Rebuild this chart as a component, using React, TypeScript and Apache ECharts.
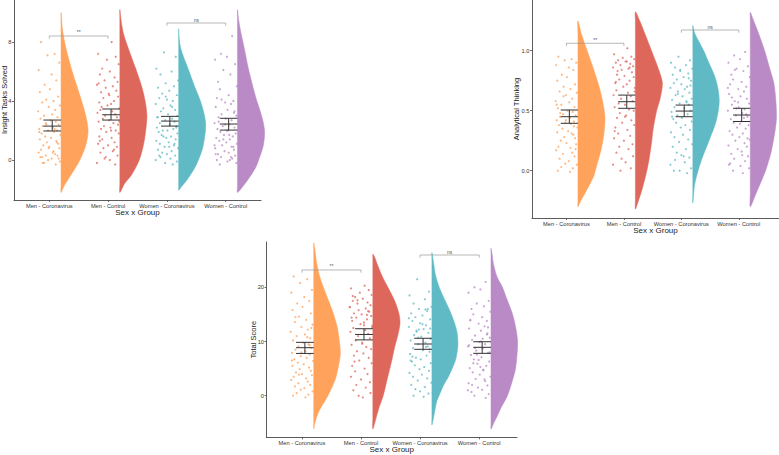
import React, { useEffect, useRef } from "react";
import * as echarts from "echarts";

const GROUPS = ["Men - Coronavirus", "Men - Control", "Women - Coronavirus", "Women - Control"];
const COLORS = ["#FFA25B", "#DE675C", "#60BAC5", "#B98AC6"];
const SIG_LABELS = ["**", "ns"];

// horizontal jitter offsets (category units) for each group's points
const JIT_A = [-0.14, 0.09, -0.03, 0.17, -0.18, 0.04, 0.12, -0.08, 0.01, -0.16, 0.15, -0.05, 0.07, -0.12, 0.18, -0.01, 0.1, -0.19, 0.05, -0.09, 0.14, -0.15, 0.02, 0.11, -0.06, 0.16, -0.11, 0.06, -0.17, 0.13, -0.02, 0.08, -0.13, 0.19, -0.07, 0.03, -0.16, 0.12, -0.04, 0.15, -0.1, 0.0, 0.17, -0.14, 0.07, -0.18, 0.1, -0.06, 0.14, -0.12, 0.04, -0.02, 0.18, -0.09, 0.11, -0.15, 0.06, -0.01, 0.13, -0.17, 0.09, -0.05, 0.16, -0.11];
const JIT_B = [0.06, -0.17, 0.13, -0.02, 0.18, -0.1, 0.03, -0.14, 0.11, -0.06, 0.16, -0.19, 0.08, -0.04, 0.14, -0.12, 0.01, 0.17, -0.08, 0.1, -0.15, 0.05, -0.01, 0.19, -0.13, 0.07, -0.18, 0.12, -0.05, 0.15, -0.09, 0.02, -0.16, 0.09, 0.17, -0.07, 0.04, -0.12, 0.13, -0.03, 0.18, -0.15, 0.06, -0.1, 0.11, -0.17, 0.0, 0.15, -0.08, 0.08, -0.13, 0.16, -0.04, 0.03, -0.19, 0.12, -0.06, 0.1, -0.14, 0.05, 0.19, -0.11, 0.02, -0.16];
const JIT_C = [-0.05, 0.15, -0.18, 0.08, -0.11, 0.19, -0.02, 0.12, -0.15, 0.04, -0.08, 0.17, -0.13, 0.0, 0.1, -0.19, 0.06, -0.06, 0.14, -0.1, 0.02, 0.18, -0.16, 0.09, -0.03, 0.13, -0.12, 0.05, 0.16, -0.17, 0.11, -0.07, 0.01, -0.14, 0.18, -0.09, 0.07, -0.01, 0.15, -0.18, 0.03, -0.12, 0.12, -0.04, 0.19, -0.15, 0.08, -0.08, 0.0, 0.14, -0.11, 0.06, -0.19, 0.17, -0.03, 0.1, -0.13, 0.04, -0.06, 0.16, -0.16, 0.09, -0.02, 0.13];
const JIT_D = [0.11, -0.08, 0.02, -0.18, 0.16, -0.04, 0.08, -0.13, 0.19, -0.1, 0.05, -0.15, 0.13, -0.01, 0.09, -0.17, 0.03, 0.14, -0.07, 0.18, -0.12, 0.0, 0.1, -0.19, 0.06, -0.05, 0.15, -0.14, 0.04, -0.09, 0.17, -0.03, 0.12, -0.16, 0.07, -0.11, 0.01, 0.19, -0.06, 0.1, -0.18, 0.14, -0.02, 0.05, -0.13, 0.16, -0.08, 0.11, -0.15, 0.03, 0.18, -0.1, 0.07, -0.17, 0.13, -0.04, 0.02, -0.12, 0.15, -0.07, 0.09, -0.19, 0.06, -0.01];
const JITTERS = [JIT_A, JIT_B, JIT_C, JIT_D];

// ---------- Panel 1: Insight Tasks Solved ----------
const INSIGHT_MEN_CORONA = [8.0, 7.2, 7.1, 6.6, 6.1, 5.8, 5.4, 5.1, 4.8, 4.6, 4.3, 4.1, 4.0, 3.9, 3.7, 3.6, 3.4, 3.3, 3.1, 3.0, 2.9, 2.8, 2.7, 2.6, 2.5, 2.4, 2.3, 2.2, 2.1, 2.0, 2.0, 1.9, 1.8, 1.7, 1.6, 1.5, 1.4, 1.3, 1.2, 1.1, 1.0, 0.9, 0.8, 0.7, 0.6, 0.5, 0.4, 0.3, 0.3, 0.2, 0.1, 0.0, -0.1, -0.2, -0.3, 0.2, 0.5, 0.8, 1.2, 1.9, 2.1, 2.4, 0.1, -0.2];
const INSIGHT_MEN_CONTROL = [8.0, 7.2, 7.0, 6.8, 6.5, 6.2, 6.0, 5.8, 5.6, 5.4, 5.3, 5.1, 5.0, 4.9, 4.7, 4.6, 4.5, 4.3, 4.2, 4.0, 3.9, 3.8, 3.7, 3.5, 3.4, 3.3, 3.2, 3.1, 3.0, 2.9, 2.8, 2.7, 2.6, 2.5, 2.4, 2.3, 2.2, 2.1, 2.0, 1.9, 1.8, 1.6, 1.5, 1.4, 1.2, 1.1, 1.0, 0.9, 0.8, 0.6, 0.5, 0.3, 0.2, 0.0, -0.2, -0.3, 0.1, 0.7, 1.3, 2.0, 2.6, 3.6, 4.4, 5.2];
const INSIGHT_WOMEN_CORONA = [7.3, 7.0, 6.2, 6.0, 5.8, 5.4, 5.2, 5.0, 4.9, 4.7, 4.5, 4.4, 4.2, 4.1, 4.0, 3.8, 3.7, 3.5, 3.4, 3.3, 3.1, 3.0, 2.9, 2.8, 2.7, 2.6, 2.5, 2.4, 2.3, 2.2, 2.1, 2.0, 2.0, 1.9, 1.8, 1.7, 1.6, 1.5, 1.4, 1.3, 1.2, 1.1, 1.0, 0.9, 0.8, 0.7, 0.6, 0.5, 0.4, 0.3, 0.2, 0.1, 0.0, -0.1, -0.2, -0.3, 0.3, 0.9, 1.6, 2.2, 2.9, 3.6, 4.3, 1.1];
const INSIGHT_WOMEN_CONTROL = [8.4, 7.2, 7.0, 6.8, 6.5, 6.1, 5.8, 5.3, 5.0, 4.8, 4.4, 4.2, 4.0, 3.9, 3.8, 3.6, 3.4, 3.2, 3.1, 3.0, 2.9, 2.8, 2.7, 2.5, 2.4, 2.3, 2.2, 2.1, 2.0, 1.9, 1.8, 1.7, 1.6, 1.5, 1.4, 1.3, 1.2, 1.1, 1.0, 0.9, 0.8, 0.7, 0.6, 0.5, 0.4, 0.3, 0.2, 0.1, 0.0, -0.1, -0.2, -0.3, 0.0, 0.4, 0.9, 1.4, 2.0, 2.6, 3.3, 4.1, 0.2, 1.0, 1.7, 2.4];
// density profiles: [value, half-violin width in category units]
const INSIGHT_DENS_MEN_CORONA = [[10.0, 0], [9, 0.02], [8, 0.06], [7, 0.12], [6, 0.19], [5, 0.27], [4, 0.35], [3, 0.42], [2, 0.46], [1, 0.42], [0, 0.32], [-1, 0.17], [-1.7, 0.06], [-2.2, 0]];
const INSIGHT_DENS_MEN_CONTROL = [[10.2, 0], [9.5, 0.02], [8.6, 0.06], [7.5, 0.15], [6.3, 0.26], [5, 0.37], [4, 0.43], [3, 0.46], [2, 0.44], [1, 0.4], [0, 0.33], [-1, 0.2], [-1.6, 0.08], [-2.2, 0]];
const INSIGHT_DENS_WOMEN_CORONA = [[8.9, 0], [8.2, 0.01], [7.5, 0.04], [6.3, 0.15], [5, 0.27], [4, 0.37], [3, 0.44], [2.3, 0.46], [1.5, 0.44], [0.7, 0.4], [-0.4, 0.29], [-1.3, 0.15], [-1.8, 0.05], [-2.05, 0]];
const INSIGHT_DENS_WOMEN_CONTROL = [[10.2, 0], [9.5, 0.02], [8.6, 0.06], [7.5, 0.12], [6.3, 0.18], [5, 0.26], [4, 0.33], [3, 0.41], [2, 0.46], [1, 0.44], [0, 0.36], [-0.5, 0.31], [-1.2, 0.2], [-1.8, 0.09], [-2.2, 0]];
// [lower CI, mean, upper CI]
const INSIGHT_CI = [[1.97, 2.3, 2.71], [2.71, 3.07, 3.46], [2.3, 2.64, 2.96], [2.03, 2.44, 2.83]];
const INSIGHT_TICKS = [0, 4, 8];
// [from group, to group, bracket height]
const INSIGHT_SIG = [[1, 2, 8.41], [3, 4, 9.29]];

// ---------- Panel 2: Analytical Thinking ----------
const ANALYTIC_MEN_CORONA = [0.95, 0.93, 0.92, 0.9, 0.88, 0.86, 0.84, 0.8, 0.78, 0.75, 0.72, 0.7, 0.68, 0.66, 0.65, 0.63, 0.6, 0.58, 0.57, 0.55, 0.53, 0.52, 0.5, 0.49, 0.47, 0.46, 0.45, 0.44, 0.42, 0.41, 0.4, 0.39, 0.38, 0.36, 0.35, 0.33, 0.32, 0.3, 0.28, 0.27, 0.25, 0.23, 0.22, 0.2, 0.19, 0.17, 0.15, 0.14, 0.12, 0.1, 0.08, 0.06, 0.05, 0.03, 0.02, 0.0, -0.01, 0.42, 0.37, 0.55, 0.31, 0.62, 0.18, 0.48];
const ANALYTIC_MEN_CONTROL = [1.02, 0.97, 0.95, 0.94, 0.93, 0.92, 0.91, 0.9, 0.89, 0.88, 0.87, 0.86, 0.85, 0.84, 0.82, 0.8, 0.79, 0.78, 0.76, 0.75, 0.73, 0.72, 0.7, 0.69, 0.67, 0.65, 0.63, 0.62, 0.6, 0.58, 0.56, 0.55, 0.53, 0.51, 0.5, 0.48, 0.46, 0.44, 0.42, 0.4, 0.38, 0.36, 0.34, 0.31, 0.29, 0.27, 0.25, 0.22, 0.2, 0.18, 0.15, 0.12, 0.1, 0.07, 0.05, 0.02, 0.0, 0.86, 0.74, 0.91, 0.66, 0.83, 0.45, 0.33];
const ANALYTIC_WOMEN_CORONA = [0.95, 0.92, 0.9, 0.88, 0.86, 0.85, 0.83, 0.81, 0.8, 0.78, 0.76, 0.75, 0.73, 0.72, 0.7, 0.69, 0.68, 0.66, 0.65, 0.63, 0.62, 0.6, 0.59, 0.57, 0.56, 0.55, 0.53, 0.52, 0.5, 0.49, 0.47, 0.46, 0.44, 0.43, 0.41, 0.4, 0.38, 0.36, 0.34, 0.32, 0.3, 0.28, 0.26, 0.24, 0.22, 0.2, 0.18, 0.15, 0.13, 0.11, 0.09, 0.07, 0.05, 0.02, 0.0, -0.02, 0.0, 0.12, 0.64, 0.71, 0.45, 0.58, 0.84, 0.77];
const ANALYTIC_WOMEN_CONTROL = [0.99, 0.96, 0.93, 0.9, 0.87, 0.85, 0.83, 0.8, 0.78, 0.76, 0.74, 0.72, 0.7, 0.68, 0.66, 0.64, 0.62, 0.6, 0.58, 0.56, 0.55, 0.53, 0.51, 0.5, 0.48, 0.46, 0.45, 0.43, 0.41, 0.4, 0.38, 0.36, 0.35, 0.33, 0.31, 0.3, 0.28, 0.26, 0.25, 0.23, 0.21, 0.2, 0.18, 0.16, 0.14, 0.12, 0.1, 0.08, 0.06, 0.04, 0.02, 0.0, -0.02, 0.05, 0.47, 0.52, 0.39, 0.61, 0.27, 0.84, 0.44, 0.69, 0.13, 0.57];
const ANALYTIC_DENS_MEN_CORONA = [[1.25, 0], [1.14, 0.06], [1.0, 0.16], [0.85, 0.27], [0.73, 0.35], [0.6, 0.42], [0.45, 0.47], [0.3, 0.45], [0.17, 0.4], [0.05, 0.33], [-0.05, 0.27], [-0.19, 0.12], [-0.25, 0.05], [-0.3, 0]];
const ANALYTIC_DENS_MEN_CONTROL = [[1.325, 0], [1.25, 0.075], [1.1, 0.2], [1.0, 0.28], [0.85, 0.4], [0.73, 0.47], [0.6, 0.43], [0.5, 0.37], [0.35, 0.31], [0.23, 0.28], [0.1, 0.24], [-0.02, 0.19], [-0.15, 0.12], [-0.24, 0.06], [-0.32, 0]];
const ANALYTIC_DENS_WOMEN_CORONA = [[1.21, 0], [1.15, 0.03], [1.09, 0.09], [1.0, 0.19], [0.92, 0.26], [0.76, 0.4], [0.59, 0.46], [0.42, 0.41], [0.26, 0.29], [0.09, 0.15], [-0.02, 0.08], [-0.12, 0.03], [-0.27, 0]];
const ANALYTIC_DENS_WOMEN_CONTROL = [[1.32, 0], [1.26, 0.05], [1.15, 0.14], [1.0, 0.25], [0.85, 0.34], [0.73, 0.41], [0.55, 0.45], [0.4, 0.45], [0.17, 0.37], [0.05, 0.3], [-0.02, 0.25], [-0.19, 0.1], [-0.3, 0]];
const ANALYTIC_CI = [[0.395, 0.45, 0.506], [0.52, 0.575, 0.63], [0.45, 0.497, 0.547], [0.41, 0.464, 0.52]];
const ANALYTIC_TICKS = [0, 0.5, 1];
const ANALYTIC_SIG = [[1, 2, 1.062], [3, 4, 1.1725]];

// ---------- Panel 3: Total Score ----------
const TOTAL_MEN_CORONA = [22.0, 21.5, 20.8, 19.5, 19.0, 18.2, 17.5, 17.0, 16.4, 15.8, 15.2, 14.6, 14.0, 13.6, 13.1, 12.7, 12.2, 11.8, 11.3, 11.0, 10.6, 10.2, 9.8, 9.5, 9.1, 8.8, 8.5, 8.2, 7.9, 7.6, 7.3, 7.0, 6.7, 6.4, 6.1, 5.8, 5.5, 5.2, 4.9, 4.6, 4.3, 4.0, 3.8, 3.5, 3.2, 2.9, 2.6, 2.3, 2.0, 1.7, 1.4, 1.1, 0.8, 0.5, 0.2, 0.0, -0.3, 8.0, 9.3, 6.5, 10.8, 3.9, 12.5, 14.5];
const TOTAL_MEN_CONTROL = [20.3, 19.8, 19.5, 19.0, 18.6, 18.2, 17.9, 17.5, 17.2, 17.0, 16.7, 16.4, 16.1, 15.8, 15.5, 15.2, 15.0, 14.7, 14.4, 14.1, 13.8, 13.5, 13.2, 12.9, 12.5, 12.1, 11.8, 11.4, 11.0, 10.6, 10.2, 9.8, 9.4, 9.0, 8.6, 8.2, 7.8, 7.4, 7.0, 6.5, 6.0, 5.5, 5.0, 4.5, 4.0, 3.5, 3.0, 2.5, 2.0, 1.5, 1.0, 0.5, 0.0, -0.3, 16.3, 15.6, 17.6, 14.9, 18.4, 13.0, 12.6, 6.3, 9.6, 14.4];
const TOTAL_WOMEN_CORONA = [21.5, 19.2, 18.5, 17.8, 17.0, 16.4, 16.0, 15.6, 15.2, 14.8, 14.5, 14.1, 13.8, 13.4, 13.0, 12.7, 12.3, 12.0, 11.6, 11.2, 10.9, 10.5, 10.2, 9.8, 9.5, 9.1, 8.8, 8.4, 8.1, 7.7, 7.4, 7.0, 6.7, 6.3, 6.0, 5.6, 5.3, 4.9, 4.6, 4.2, 3.9, 3.5, 3.2, 2.8, 2.4, 2.0, 1.6, 1.2, 0.8, 0.4, 0.0, -0.2, 14.3, 12.4, 10.7, 9.0, 7.2, 13.2, 11.8, 8.6, 6.5, 15.9, 12.2, 16.0];
const TOTAL_WOMEN_CONTROL = [21.0, 20.0, 19.6, 19.0, 17.5, 17.0, 16.5, 16.0, 15.5, 15.0, 14.5, 14.0, 13.8, 13.3, 12.8, 12.4, 12.0, 11.5, 11.1, 10.7, 10.3, 9.9, 9.5, 9.1, 8.7, 8.3, 7.9, 7.5, 7.1, 6.7, 6.3, 5.9, 5.5, 5.1, 4.7, 4.3, 3.9, 3.5, 3.1, 2.7, 2.3, 1.9, 1.5, 1.1, 0.7, 0.3, 0.0, -0.4, 13.9, 10.0, 8.0, 6.0, 4.8, 9.3, 11.3, 7.6, 5.3, 2.0, 12.6, 8.8, 3.0, 1.0, 10.5, 6.6];
const TOTAL_DENS_MEN_CORONA = [[28.2, 0], [26.9, 0.02], [24.4, 0.05], [22, 0.1], [20.1, 0.16], [17.5, 0.25], [15.2, 0.33], [12.5, 0.4], [10.3, 0.43], [7.8, 0.45], [5, 0.41], [2.9, 0.36], [-0.2, 0.23], [-2, 0.13], [-3.3, 0.07], [-5, 0.02], [-6.15, 0]];
const TOTAL_DENS_MEN_CONTROL = [[26.1, 0], [25.6, 0.03], [24.4, 0.07], [22, 0.16], [20.1, 0.25], [17.5, 0.37], [15.2, 0.44], [13.4, 0.46], [11, 0.42], [9, 0.37], [6.5, 0.32], [4.7, 0.28], [2, 0.22], [-0.2, 0.17], [-2, 0.11], [-3.9, 0.06], [-6.15, 0]];
const TOTAL_DENS_WOMEN_CORONA = [[26.4, 0], [24.4, 0.03], [22.3, 0.06], [20.1, 0.12], [18.6, 0.18], [15, 0.33], [12, 0.42], [9.5, 0.44], [7, 0.41], [5.7, 0.37], [3.5, 0.28], [2, 0.2], [0, 0.12], [-1.1, 0.08], [-3.9, 0.03], [-5.4, 0]];
const TOTAL_DENS_WOMEN_CONTROL = [[27.2, 0], [26, 0.02], [24.4, 0.04], [22, 0.1], [20.1, 0.19], [17.5, 0.28], [15.2, 0.36], [12.5, 0.42], [10, 0.45], [7.5, 0.44], [4.7, 0.41], [2, 0.34], [-0.2, 0.27], [-2, 0.18], [-3.9, 0.1], [-5.2, 0.04], [-6.15, 0]];
const TOTAL_CI = [[7.8, 8.86, 9.85], [10.3, 11.3, 12.36], [8.56, 9.54, 10.6], [7.82, 8.93, 9.96]];
const TOTAL_TICKS = [0, 10, 20];
const TOTAL_SIG = [[1, 2, 23.2], [3, 4, 25.96]];

const FONT = "'Liberation Sans', Arial, Helvetica, sans-serif";

const PANELS = [
  {
    name: "Insight Tasks Solved",
    points: [INSIGHT_MEN_CORONA, INSIGHT_MEN_CONTROL, INSIGHT_WOMEN_CORONA, INSIGHT_WOMEN_CONTROL],
    dens: [INSIGHT_DENS_MEN_CORONA, INSIGHT_DENS_MEN_CONTROL, INSIGHT_DENS_WOMEN_CORONA, INSIGHT_DENS_WOMEN_CONTROL],
    ci: INSIGHT_CI,
    ticks: INSIGHT_TICKS,
    sig: INSIGHT_SIG,
    grid: { left: 14, top: 0, width: 247, height: 200 },
    xRange: [0.4, 4.6],
    yRange: [-2.71, 10.85],
    nameGap: 5.2,
    fmt: (v: number) => String(v),
  },
  {
    name: "Analytical Thinking",
    points: [ANALYTIC_MEN_CORONA, ANALYTIC_MEN_CONTROL, ANALYTIC_WOMEN_CORONA, ANALYTIC_WOMEN_CONTROL],
    dens: [ANALYTIC_DENS_MEN_CORONA, ANALYTIC_DENS_MEN_CONTROL, ANALYTIC_DENS_WOMEN_CORONA, ANALYTIC_DENS_WOMEN_CONTROL],
    ci: ANALYTIC_CI,
    ticks: ANALYTIC_TICKS,
    sig: ANALYTIC_SIG,
    grid: { left: 532, top: 0, width: 247, height: 218 },
    xRange: [0.4, 4.7],
    yRange: [-0.394, 1.4225],
    nameGap: 11.5,
    fmt: (v: number) => v.toFixed(1),
  },
  {
    name: "Total Score",
    points: [TOTAL_MEN_CORONA, TOTAL_MEN_CONTROL, TOTAL_WOMEN_CORONA, TOTAL_WOMEN_CONTROL],
    dens: [TOTAL_DENS_MEN_CORONA, TOTAL_DENS_MEN_CONTROL, TOTAL_DENS_WOMEN_CORONA, TOTAL_DENS_WOMEN_CONTROL],
    ci: TOTAL_CI,
    ticks: TOTAL_TICKS,
    sig: TOTAL_SIG,
    grid: { left: 266.5, top: 242, width: 250.5, height: 195.3 },
    xRange: [0.4, 4.64],
    yRange: [-7.67, 28.36],
    nameGap: 9,
    fmt: (v: number) => String(v),
  },
];

const AXIS_COLOR = "#4a4a4a";

function buildOption() {
  const grids: any[] = [];
  const xAxes: any[] = [];
  const yAxes: any[] = [];
  const series: any[] = [];

  PANELS.forEach((p, i) => {
    grids.push({ ...p.grid, containLabel: false, outerBoundsMode: "none" });
    xAxes.push({
      type: "value",
      gridIndex: i,
      min: p.xRange[0],
      max: p.xRange[1],
      splitLine: { show: false },
      axisLine: { show: true, onZero: false, lineStyle: { color: AXIS_COLOR, width: 0.9 } },
      axisTick: { show: true, customValues: [1, 2, 3, 4], length: 2, lineStyle: { color: AXIS_COLOR, width: 0.8 } },
      axisLabel: {
        customValues: [1, 2, 3, 4],
        formatter: (v: number) => GROUPS[Math.round(v) - 1] || "",
        fontSize: 5.7,
        color: "#333",
        margin: 3,
        fontFamily: FONT,
        hideOverlap: false,
      },
      name: "Sex x Group",
      nameLocation: "middle",
      nameGap: 8.5,
      nameMoveOverlap: false,
      nameTextStyle: { fontSize: 8, color: "#222", fontFamily: FONT },
    });
    yAxes.push({
      type: "value",
      gridIndex: i,
      min: p.yRange[0],
      max: p.yRange[1],
      splitLine: { show: false },
      axisLine: { show: true, onZero: false, lineStyle: { color: AXIS_COLOR, width: 0.9 } },
      axisTick: { show: true, customValues: p.ticks, length: 2, lineStyle: { color: AXIS_COLOR, width: 0.8 } },
      axisLabel: {
        customValues: p.ticks,
        formatter: p.fmt,
        fontSize: 5.7,
        color: "#333",
        margin: 2.5,
        fontFamily: FONT,
      },
      name: p.name,
      nameLocation: "middle",
      nameGap: p.nameGap,
      nameMoveOverlap: false,
      nameTextStyle: { fontSize: 7.5, color: "#222", fontFamily: FONT },
    });

    // half violins
    series.push({
      type: "custom",
      xAxisIndex: i,
      yAxisIndex: i,
      clip: false,
      silent: true,
      z: 1,
      data: p.dens.map((d, g) => [g + 1, d[0][0]]),
      renderItem: (params: any, api: any) => {
        const g = params.dataIndex;
        const prof = p.dens[g];
        const edge = g + 1 + 0.2;
        const outer = prof.map(([y, w]: number[]) => api.coord([edge + w, y]));
        const inner = prof
          .slice()
          .reverse()
          .slice(1, -1)
          .map(([y]: number[]) => api.coord([edge, y]));
        return {
          type: "polygon",
          shape: { points: outer.concat(inner), smooth: 0.3 },
          style: { fill: COLORS[g], stroke: COLORS[g], lineWidth: 0.5 },
        };
      },
    });

    // jittered raw points
    p.points.forEach((vals, g) => {
      series.push({
        type: "scatter",
        xAxisIndex: i,
        yAxisIndex: i,
        silent: true,
        z: 2,
        symbolSize: 2.2,
        itemStyle: { color: COLORS[g], opacity: 0.75 },
        data: vals.map((v, k) => [g + 1 + JITTERS[g][k % JITTERS[g].length], v]),
      });
    });

    // mean + CI error bars
    series.push({
      type: "custom",
      xAxisIndex: i,
      yAxisIndex: i,
      clip: false,
      silent: true,
      z: 3,
      data: p.ci.map((c, g) => [g + 1, c[0], c[1], c[2]]),
      renderItem: (params: any, api: any) => {
        const x = api.value(0) + 0.05;
        const hline = (v: number) => {
          const a = api.coord([x - 0.15, v]);
          const b = api.coord([x + 0.15, v]);
          return {
            type: "line",
            shape: { x1: a[0], y1: a[1], x2: b[0], y2: b[1] },
            style: { stroke: "#333", lineWidth: 1 },
          };
        };
        const top = api.coord([x, api.value(3)]);
        const bot = api.coord([x, api.value(1)]);
        return {
          type: "group",
          children: [
            hline(api.value(1)),
            hline(api.value(2)),
            hline(api.value(3)),
            {
              type: "line",
              shape: { x1: top[0], y1: top[1], x2: bot[0], y2: bot[1] },
              style: { stroke: "#333", lineWidth: 1 },
            },
          ],
        };
      },
    });

    // significance brackets
    series.push({
      type: "custom",
      xAxisIndex: i,
      yAxisIndex: i,
      clip: false,
      silent: true,
      z: 4,
      data: p.sig.map((s, k) => [s[0], s[1], s[2], k]),
      renderItem: (params: any, api: any) => {
        const a = api.coord([api.value(0), api.value(2)]);
        const b = api.coord([api.value(1), api.value(2)]);
        const t = 2.7;
        return {
          type: "group",
          children: [
            {
              type: "polyline",
              shape: { points: [[a[0], a[1] + t], [a[0], a[1]], [b[0], b[1]], [b[0], b[1] + t]] },
              style: { stroke: "#9a9a9a", lineWidth: 0.7, fill: null },
            },
            {
              type: "text",
              x: (a[0] + b[0]) / 2,
              y: a[1] - 1,
              style: {
                text: SIG_LABELS[api.value(3)],
                fontSize: 5,
                fontFamily: FONT,
                fill: "#555",
                align: "center",
                verticalAlign: "bottom",
              },
            },
          ],
        };
      },
    });
  });

  return {
    animation: false,
    backgroundColor: "#ffffff",
    textStyle: { fontFamily: FONT },
    grid: grids,
    xAxis: xAxes,
    yAxis: yAxes,
    series,
  };
}

export default function App() {
  const ref = useRef<HTMLDivElement>(null);
  useEffect(() => {
    if (!ref.current) return;
    const chart = echarts.init(ref.current, undefined, { renderer: "svg", width: 779, height: 455 });
    chart.setOption(buildOption());
    return () => chart.dispose();
  }, []);
  return (
    <div
      ref={ref}
      style={{ position: "absolute", left: 0, top: 0, width: 779, height: 455, background: "#fff" }}
    />
  );
}
